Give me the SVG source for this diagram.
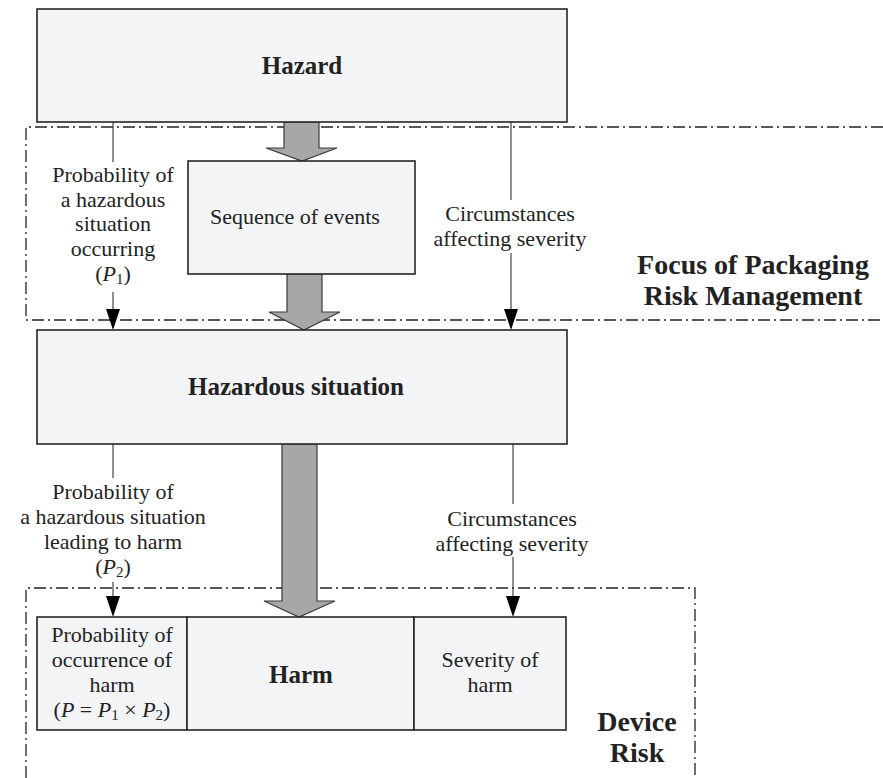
<svg xmlns="http://www.w3.org/2000/svg" width="883" height="778" viewBox="0 0 883 778">
<defs>
<style>
.box{fill:#f3f4f6;stroke:#262626;stroke-width:1.6}
.big{fill:#a7a7aa;stroke:#3a3a3a;stroke-width:1.2}
.ln{stroke:#333;stroke-width:1.1;fill:none}
.dash{stroke:#222;stroke-width:1.3;fill:none;stroke-dasharray:12 4 2 4}
text{font-family:"Liberation Serif","Times New Roman",serif;font-size:22px;fill:#222;text-anchor:middle}
.b{font-weight:bold;font-size:25px}
.bb{font-weight:bold;font-size:28px}
.i{font-style:italic}
.s{font-size:15px}
</style>
</defs>
<g id="regions">
<path class="dash" d="M883,127 H26 V320 H883"/>
<path class="dash" d="M26,778 V588 H695 V778"/>
</g>
<g id="connectors">
<polygon class="big" points="284,122 319,122 319,148 337,148 302,161 266,148 284,148"/>
<polygon class="big" points="287,274 322,274 322,312 340,312 304,330 269,312 287,312"/>
<polygon class="big" points="282,444 317,444 317,601 335,601 299,617 264,601 282,601"/>
<line class="ln" x1="113" y1="122" x2="113" y2="162"/>
<line class="ln" x1="113" y1="292" x2="113" y2="309"/>
<path d="M106,309 L120,309 L113,330 Z" fill="#000"/>
<line class="ln" x1="511" y1="122" x2="511" y2="200"/>
<line class="ln" x1="511" y1="253" x2="511" y2="309"/>
<path d="M504,309 L518,309 L511,330 Z" fill="#000"/>
<line class="ln" x1="113" y1="444" x2="113" y2="478"/>
<line class="ln" x1="113" y1="582" x2="113" y2="596"/>
<path d="M106,596 L120,596 L113,617 Z" fill="#000"/>
<line class="ln" x1="513" y1="444" x2="513" y2="504"/>
<line class="ln" x1="513" y1="557" x2="513" y2="596"/>
<path d="M506,596 L520,596 L513,617 Z" fill="#000"/>
</g>
<g id="hazard">
<rect class="box" x="37" y="9" width="530" height="113"/>
<text class="b" x="302" y="74">Hazard</text>
</g>
<g id="sequence">
<rect class="box" x="188" y="161" width="227" height="113"/>
<text x="295" y="224">Sequence of events</text>
</g>
<g id="hazardous-situation">
<rect class="box" x="37" y="330" width="530" height="114"/>
<text class="b" x="296" y="395">Hazardous situation</text>
</g>
<g id="prob-occurrence">
<rect class="box" x="37" y="617" width="150" height="113"/>
<text x="112" y="642">Probability of</text>
<text x="112" y="667">occurrence of</text>
<text x="112" y="692">harm</text>
<text x="112" y="717">(<tspan class="i">P</tspan> = <tspan class="i">P</tspan><tspan class="s" dy="3">1</tspan><tspan dy="-3"> × </tspan><tspan class="i">P</tspan><tspan class="s" dy="3">2</tspan><tspan dy="-3">)</tspan></text>
</g>
<g id="harm">
<rect class="box" x="187" y="617" width="227" height="113"/>
<text class="b" x="301" y="683">Harm</text>
</g>
<g id="severity">
<rect class="box" x="414" y="617" width="152" height="113"/>
<text x="490" y="667">Severity of</text>
<text x="490" y="692">harm</text>
</g>
<g id="labels">
<text x="113" y="182">Probability of</text>
<text x="113" y="207">a hazardous</text>
<text x="113" y="231">situation</text>
<text x="113" y="256">occurring</text>
<text x="113" y="281">(<tspan class="i">P</tspan><tspan class="s" dy="3">1</tspan><tspan dy="-3">)</tspan></text>
<text x="510" y="221">Circumstances</text>
<text x="510" y="246">affecting severity</text>
<text x="113" y="499">Probability of</text>
<text x="113" y="524">a hazardous situation</text>
<text x="113" y="549">leading to harm</text>
<text x="113" y="574">(<tspan class="i">P</tspan><tspan class="s" dy="3">2</tspan><tspan dy="-3">)</tspan></text>
<text x="512" y="526">Circumstances</text>
<text x="512" y="551">affecting severity</text>
<text class="bb" x="753" y="274">Focus of Packaging</text>
<text class="bb" x="753" y="305">Risk Management</text>
<text class="bb" x="637" y="731">Device</text>
<text class="bb" x="637" y="762">Risk</text>
</g>
</svg>
